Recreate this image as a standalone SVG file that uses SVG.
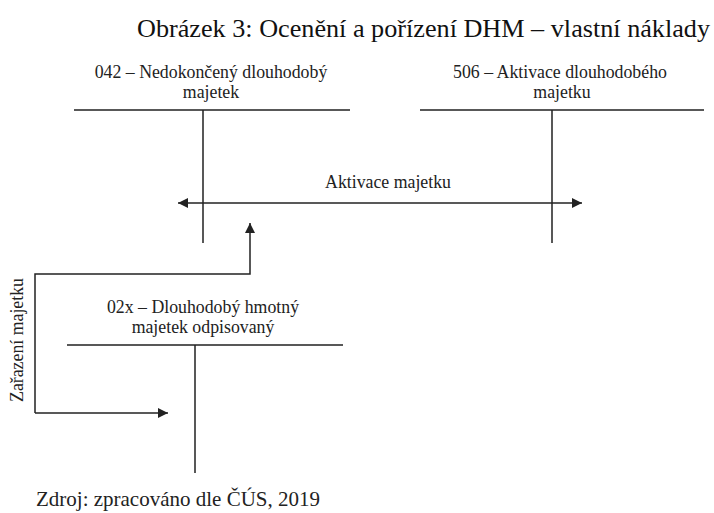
<svg xmlns="http://www.w3.org/2000/svg" width="714" height="513" viewBox="0 0 714 513">
  <style>
    text { font-family: "Liberation Serif", "Times New Roman", serif; fill: #222; }
    .title { font-size: 26.2px; fill: #111; }
    .lbl { font-size: 17.8px; text-anchor: middle; }
    .src { font-size: 21px; }
    .acct { stroke: #222; stroke-width: 1.5; fill: none; }
    .conn { stroke: #222; stroke-width: 1.5; fill: none; }
  </style>
  <defs>
    <marker id="arrow" viewBox="0 0 10 10" refX="10" refY="5" markerWidth="11" markerHeight="10" markerUnits="userSpaceOnUse" orient="auto-start-reverse">
      <path d="M0,0 L10,5 L0,10 z" fill="#222"/>
    </marker>
  </defs>

  <rect width="714" height="513" fill="#fff"/>

  <text class="title" x="137" y="37">Obrázek 3: Ocenění a pořízení DHM – vlastní náklady</text>

  <!-- T-account 042 -->
  <g id="acc-042">
    <text class="lbl" x="211" y="78">042 – Nedokončený dlouhodobý</text>
    <text class="lbl" x="211" y="98">majetek</text>
    <path class="acct" d="M74,110 H350 M203,110 V243"/>
  </g>

  <!-- T-account 506 -->
  <g id="acc-506">
    <text class="lbl" x="560" y="78">506 – Aktivace dlouhodobého</text>
    <text class="lbl" x="562" y="98">majetku</text>
    <path class="acct" d="M420,110 H704 M552,110 V243"/>
  </g>

  <!-- T-account 02x -->
  <g id="acc-02x">
    <text class="lbl" x="203" y="313">02x – Dlouhodobý hmotný</text>
    <text class="lbl" x="203" y="333">majetek odpisovaný</text>
    <path class="acct" d="M67,345 H343 M195,345 V473"/>
  </g>

  <!-- connectors -->
  <g id="connectors">
    <path class="conn" d="M178,203 H582" marker-start="url(#arrow)" marker-end="url(#arrow)"/>
    <text class="lbl" x="388" y="188">Aktivace majetku</text>
    <path class="conn" d="M35,413 V274 H250 V223" marker-end="url(#arrow)"/>
    <path class="conn" d="M35,413 H168" marker-end="url(#arrow)"/>
    <text class="lbl" transform="translate(23,340) rotate(-90)">Zařazení majetku</text>
  </g>

  <text class="src" x="36" y="506">Zdroj: zpracováno dle ČÚS, 2019</text>
</svg>
